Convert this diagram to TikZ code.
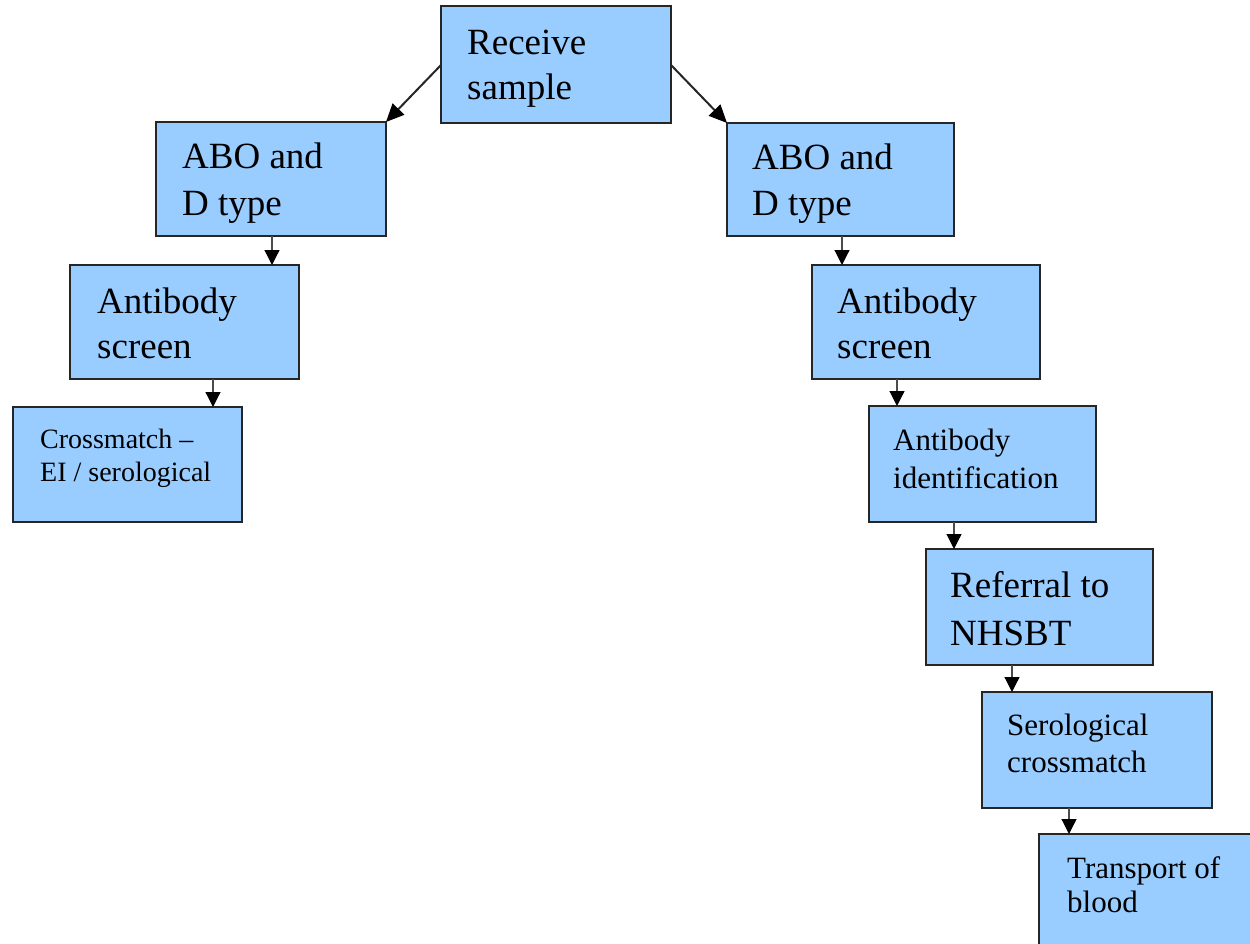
\documentclass[tikz,border=0pt]{standalone}
\usepackage{fontspec}
\setmainfont{Liberation Serif}
\usetikzlibrary{arrows.meta}
\definecolor{boxblue}{RGB}{153,204,255}
\begin{document}
\begin{tikzpicture}[x=1pt,y=-1pt,
  box/.style={draw=black!85,line width=1.8pt,fill=boxblue,rectangle,inner sep=0pt,outer sep=0pt,anchor=north west},
  big/.style={font=\fontsize{37}{45}\selectfont,inner sep=0pt,anchor=base west,text=black},
  mid/.style={font=\fontsize{31}{37}\selectfont,inner sep=0pt,anchor=base west,text=black},
  sml/.style={font=\fontsize{28}{33}\selectfont,inner sep=0pt,anchor=base west,text=black},
  varr/.style={draw=black!70,line width=1.2pt,-{Triangle[width=15pt,length=15pt,black]}},
  darr/.style={draw=black!85,line width=2pt,-{Triangle[width=16pt,length=18pt,black]}}]
\useasboundingbox (0,0) rectangle (1250,944);
\clip (0,0) rectangle (1250,944);
% boxes
\node[box,minimum width=230pt,minimum height=117pt] (rs) at (441,6) {};
\node[box,minimum width=230pt,minimum height=114pt] (abol) at (156,122) {};
\node[box,minimum width=227pt,minimum height=113pt] (abor) at (727,123) {};
\node[box,minimum width=229pt,minimum height=114pt] (abl) at (70,265) {};
\node[box,minimum width=228pt,minimum height=114pt] (abr) at (812,265) {};
\node[box,minimum width=229pt,minimum height=115pt] (xm) at (13,407) {};
\node[box,minimum width=227pt,minimum height=116pt] (aid) at (869,406) {};
\node[box,minimum width=227pt,minimum height=116pt] (ref) at (926,549) {};
\node[box,minimum width=230pt,minimum height=116pt] (ser) at (982,692) {};
\node[box,minimum width=240pt,minimum height=120pt] (tra) at (1039,834) {};
% texts
\node[big] (t1a) at (467,55) {Receive};
\node[big] (t1b) at (467,100) {sample};
\node[big] (t2a) at (182,169) {ABO and};
\node[big] (t2b) at (182,215) {D type};
\node[big] (t3a) at (752,170) {ABO and};
\node[big] (t3b) at (752,215) {D type};
\node[big] (t4a) at (97,313) {Antibody};
\node[big] (t4b) at (97,358) {screen};
\node[big] (t5a) at (837,313) {Antibody};
\node[big] (t5b) at (837,358) {screen};
\node[sml] (t6a) at (40,448) {Crossmatch –};
\node[sml] (t6b) at (40,481) {EI / serological};
\node[mid] (t7a) at (893,450) {Antibody};
\node[mid] (t7b) at (893,488) {identification};
\node[big] (t8a) at (950,597) {Referral to};
\node[big] (t8b) at (950,645) {NHSBT};
\node[mid] (t9a) at (1007,735) {Serological};
\node[mid] (t9b) at (1007,772) {crossmatch};
\node[mid] (t10a) at (1067,878) {Transport of};
\node[mid] (t10b) at (1067,912) {blood};
% connectors
\draw[darr] ([yshift=-59pt]rs.north west) -- (abol.north east);
\draw[darr] ([yshift=-59pt]rs.north east) -- (abor.north west);
\draw[varr] ([xshift=116pt]abol.south west) -- ([xshift=202pt]abl.north west);
\draw[varr] ([xshift=115pt]abor.south west) -- ([xshift=30pt]abr.north west);
\draw[varr] ([xshift=143pt]abl.south west) -- ([xshift=200pt]xm.north west);
\draw[varr] ([xshift=85pt]abr.south west) -- ([xshift=28pt]aid.north west);
\draw[varr] ([xshift=85pt]aid.south west) -- ([xshift=28pt]ref.north west);
\draw[varr] ([xshift=86pt]ref.south west) -- ([xshift=30pt]ser.north west);
\draw[varr] ([xshift=87pt]ser.south west) -- ([xshift=30pt]tra.north west);
\end{tikzpicture}
\end{document}
